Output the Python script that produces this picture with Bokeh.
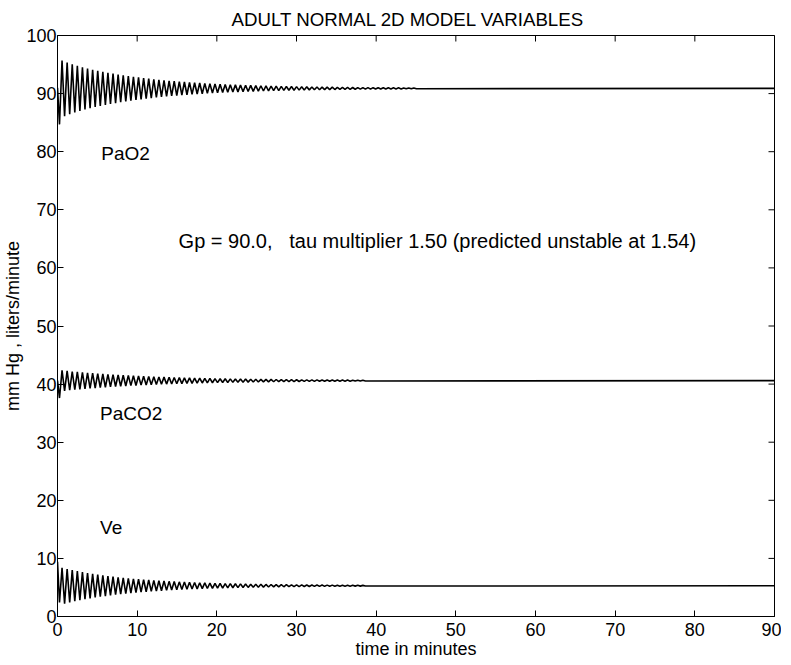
import math
from bokeh.plotting import figure
from bokeh.models import Label, Range1d, FixedTicker
from bokeh.embed import file_html
from bokeh.resources import INLINE

TITLE = "ADULT NORMAL 2D MODEL VARIABLES"
X_LABEL = "time in minutes"
Y_LABEL = "mm Hg , liters/minute"
X_TICKS = [0, 10, 20, 30, 40, 50, 60, 70, 80, 90]
Y_TICKS = [0, 10, 20, 30, 40, 50, 60, 70, 80, 90, 100]
X_MAX = 90
Y_MAX = 100
NOTE = "Gp = 90.0,\u00a0\u00a0 tau multiplier 1.50 (predicted unstable at 1.54)"

# oscillation timing (minutes)
PERIOD_MIN = 0.64
T_FIRST = 0.25
T_END = 90.0

# PaO2 (mm Hg): start, first dip, settled level, half-swing per cycle
PAO2_START = 91.0
PAO2_FIRST = 84.7
PAO2_BASE = 90.9
PAO2_AMP = [4.80, 4.45, 4.15, 3.88, 3.63, 3.41, 3.21, 3.03, 2.85, 2.69,
            2.53, 2.38, 2.25, 2.12, 1.99, 1.88, 1.77, 1.67, 1.57, 1.48,
            1.39, 1.31, 1.24, 1.16, 1.10, 1.03, 0.97, 0.92, 0.86, 0.81,
            0.77, 0.72, 0.68, 0.64, 0.60, 0.57, 0.54, 0.51, 0.48, 0.45,
            0.42, 0.40, 0.38, 0.35, 0.33, 0.31, 0.30, 0.28, 0.26, 0.25,
            0.23, 0.22, 0.21, 0.20, 0.18, 0.17, 0.16, 0.15, 0.14, 0.14,
            0.13, 0.12, 0.11, 0.11, 0.10, 0.09, 0.09, 0.08, 0.08, 0.07]

# PaCO2 (mm Hg)
PACO2_START = 40.6
PACO2_FIRST = 37.6
PACO2_BASE = 40.6
PACO2_AMP = [1.75, 1.66, 1.57, 1.49, 1.41, 1.34, 1.27, 1.20, 1.14, 1.08,
             1.02, 0.97, 0.92, 0.87, 0.83, 0.78, 0.74, 0.70, 0.67, 0.63,
             0.60, 0.57, 0.54, 0.51, 0.48, 0.46, 0.44, 0.41, 0.39, 0.37,
             0.35, 0.33, 0.32, 0.30, 0.28, 0.27, 0.26, 0.24, 0.23, 0.22,
             0.21, 0.20, 0.19, 0.18, 0.17, 0.16, 0.15, 0.14, 0.13, 0.13,
             0.12, 0.11, 0.11, 0.10, 0.10, 0.09, 0.09, 0.08, 0.08, 0.07]

# Ve (liters/minute)
VE_START = 9.4
VE_FIRST = 2.4
VE_BASE = 5.3
VE_AMP = [3.10, 2.88, 2.68, 2.50, 2.33, 2.17, 2.03, 1.90, 1.78, 1.66,
          1.55, 1.45, 1.35, 1.26, 1.18, 1.11, 1.04, 0.98, 0.91, 0.86,
          0.80, 0.75, 0.71, 0.66, 0.62, 0.58, 0.55, 0.51, 0.48, 0.45,
          0.42, 0.40, 0.37, 0.35, 0.33, 0.31, 0.29, 0.27, 0.25, 0.24,
          0.22, 0.21, 0.20, 0.18, 0.17, 0.16, 0.15, 0.14, 0.13, 0.12,
          0.12, 0.11, 0.10, 0.10, 0.09, 0.08, 0.08, 0.07, 0.07, 0.06]

LABELS = ["PaO2", "PaCO2", "Ve"]
LABEL_X = [5.5, 5.35, 5.35]
LABEL_Y = [79.7, 35.0, 15.3]

FONT = "Liberation Sans"


def trace(start, first, base, amp):
    xs = [0.0, T_FIRST]
    ys = [start, first]
    for k, a in enumerate(amp):
        xs.append(T_FIRST + PERIOD_MIN * (k + 0.5))
        ys.append(base + a)
        xs.append(T_FIRST + PERIOD_MIN * (k + 1.0))
        ys.append(base - a)
    xs.append(T_END)
    ys.append(base)
    return xs, ys


p = figure(width=781, height=663, output_backend="svg", toolbar_location=None,
           x_range=Range1d(0, X_MAX), y_range=Range1d(0, Y_MAX),
           min_border_left=50, min_border_right=7, min_border_top=35,
           min_border_bottom=47, background_fill_color="white",
           border_fill_color="white")
p.grid.visible = False
p.outline_line_color = "black"
p.outline_line_width = 1

p.title.text = TITLE
p.title.text_font = FONT
p.title.text_font_size = "18.7px"
p.title.text_font_style = "normal"
p.title.text_color = "black"
p.title.align = "left"
p.title.offset = 174
p.title.standoff = 12

for ax in (p.xaxis[0], p.yaxis[0]):
    ax.major_tick_in = 6
    ax.major_tick_out = 0
    ax.minor_tick_in = 0
    ax.minor_tick_out = 0
    ax.axis_line_color = "black"
    ax.major_tick_line_color = "black"
    ax.major_label_text_font = FONT
    ax.major_label_text_font_size = "18px"
    ax.major_label_text_color = "black"
    ax.axis_label_text_font = FONT
    ax.axis_label_text_font_size = "18px"
    ax.axis_label_text_font_style = "normal"
    ax.axis_label_text_color = "black"

p.xaxis.ticker = FixedTicker(ticks=X_TICKS)
p.yaxis.ticker = FixedTicker(ticks=Y_TICKS)
p.xaxis.major_label_standoff = 6
p.xaxis.axis_label = X_LABEL
p.xaxis.axis_label_standoff = 0
p.yaxis.major_label_standoff = 1
p.yaxis.axis_label = Y_LABEL
p.yaxis.axis_label_standoff = 0

# inward ticks on the top and right edges (half of each dash is clipped by the frame)
p.scatter(X_TICKS, [Y_MAX] * len(X_TICKS), marker="dash", angle=math.pi / 2,
          size=12, line_color="black", line_width=1)
p.scatter([X_MAX] * len(Y_TICKS), Y_TICKS, marker="dash",
          size=12, line_color="black", line_width=1)

for xs, ys in (trace(PAO2_START, PAO2_FIRST, PAO2_BASE, PAO2_AMP),
               trace(PACO2_START, PACO2_FIRST, PACO2_BASE, PACO2_AMP),
               trace(VE_START, VE_FIRST, VE_BASE, VE_AMP)):
    p.line(xs, ys, line_color="black", line_width=1.6)

for t, x, y in zip(LABELS, LABEL_X, LABEL_Y):
    p.add_layout(Label(x=x, y=y, text=t, text_font=FONT, text_font_size="19px",
                       text_baseline="middle", text_align="left", text_color="black"))

p.add_layout(Label(x=15.2, y=64.7, text=NOTE, text_font=FONT, text_font_size="20px",
                   text_baseline="middle", text_align="left", text_color="black"))

open("out.html", "w").write(file_html(p, INLINE))
